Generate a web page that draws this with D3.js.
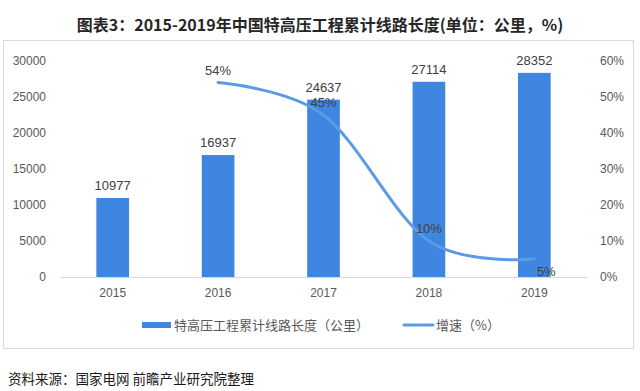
<!DOCTYPE html>
<html lang="zh">
<head>
  <meta charset="UTF-8" />
  <title>特高压工程累计线路长度</title>
  <script src="https://d3js.org/d3.v7.min.js"></script>
  <style>
    body {
      margin: 0;
      background: #fff;
      font-family: "Noto Sans CJK SC", "Noto Sans", sans-serif;
    }
    svg text {
      fill: #404040;
    }
    .num {
      font-family: "Liberation Sans", Arial, sans-serif;
    }
  </style>
</head>
<body>
  <svg width="640" height="391"></svg>

  <script>
    const years = ["2015", "2016", "2017", "2018", "2019"];
    const lengths = [10977, 16937, 24637, 27114, 28352];
    const growth = [null, 54, 45, 10, 5];
    const growthLabelPos = [null, "top", "top", "top", "below-right"];
    const leftTicks = [0, 5000, 10000, 15000, 20000, 25000, 30000];
    const rightTicks = [0, 10, 20, 30, 40, 50, 60];

    const barColor = "#3f86e0";
    const lineColor = "#5b9ae6";

    const svg = d3.select("svg");
    const margin = { top: 61, right: 53, bottom: 114, left: 60 },
          width = 640 - margin.left - margin.right,
          height = 391 - margin.top - margin.bottom;

    // title
    svg.append("text")
      .attr("x", 320)
      .attr("y", 31)
      .attr("text-anchor", "middle")
      .style("font-size", "16px")
      .style("font-weight", "bold")
      .style("fill", "#262626")
      .text("图表3：2015-2019年中国特高压工程累计线路长度(单位：公里，%)");

    // frame
    svg.append("rect")
      .attr("x", 3.5).attr("y", 40.5)
      .attr("width", 630).attr("height", 308)
      .attr("fill", "none")
      .attr("stroke", "#d9d9d9");

    const g = svg.append("g").attr("transform", `translate(${margin.left},${margin.top})`);

    const x = d3.scaleBand().domain(years).range([0, width]).paddingInner(0.69).paddingOuter(0.345);
    const y = d3.scaleLinear().domain([0, 30000]).range([height, 0]);
    const y2 = d3.scaleLinear().domain([0, 60]).range([height, 0]);

    // left axis
    const yAxis = g.append("g")
      .call(d3.axisLeft(y).tickValues(leftTicks).tickSize(0).tickPadding(14).tickFormat(d3.format("d")));
    yAxis.select(".domain").remove();
    yAxis.selectAll("text").attr("class", "num").style("font-size", "12px").style("fill", "#595959");

    // right axis
    const yAxis2 = g.append("g")
      .attr("transform", `translate(${width},0)`)
      .call(d3.axisRight(y2).tickValues(rightTicks).tickSize(0).tickPadding(13).tickFormat(d => d + "%"));
    yAxis2.select(".domain").remove();
    yAxis2.selectAll("text").attr("class", "num").style("font-size", "12px").style("fill", "#595959");

    // bars
    g.selectAll(".bar")
      .data(lengths)
      .join("rect")
      .attr("class", "bar")
      .attr("x", (d, i) => x(years[i]))
      .attr("y", d => y(d))
      .attr("width", x.bandwidth())
      .attr("height", d => height - y(d))
      .attr("fill", barColor);

    g.selectAll(".bar-label")
      .data(lengths)
      .join("text")
      .attr("class", "bar-label num")
      .attr("x", (d, i) => x(years[i]) + x.bandwidth() / 2)
      .attr("y", d => y(d) - 8)
      .attr("text-anchor", "middle")
      .style("font-size", "13px")
      .text(d => d);

    // bottom axis
    const xAxis = g.append("g")
      .attr("transform", `translate(0,${height})`)
      .call(d3.axisBottom(x).tickSize(0).tickPadding(11));
    xAxis.select(".domain").attr("stroke", "#d9d9d9");
    xAxis.selectAll("text").attr("class", "num").style("font-size", "12px").style("fill", "#595959");

    // growth line
    const pts = growth
      .map((v, i) => ({ v, year: years[i], pos: growthLabelPos[i] }))
      .filter(d => d.v !== null);

    const line = d3.line()
      .x(d => x(d.year) + x.bandwidth() / 2)
      .y(d => y2(d.v))
      .curve(d3.curveCardinal.tension(0));

    g.append("path")
      .datum(pts)
      .attr("d", line)
      .attr("fill", "none")
      .attr("stroke", lineColor)
      .attr("stroke-width", 3)
      .attr("stroke-linecap", "round");

    g.selectAll(".line-label")
      .data(pts)
      .join("text")
      .attr("class", "line-label num")
      .attr("x", d => x(d.year) + x.bandwidth() / 2 + (d.pos === "top" ? 0 : 12))
      .attr("y", d => y2(d.v) + (d.pos === "top" ? -8 : 17))
      .attr("text-anchor", "middle")
      .style("font-size", "13px")
      .text(d => d.v + "%");

    // legend
    const legend = svg.append("g").attr("transform", "translate(142,325)");
    legend.append("rect")
      .attr("x", 0).attr("y", -3)
      .attr("width", 29).attr("height", 6)
      .attr("fill", barColor);
    legend.append("text")
      .attr("x", 32).attr("y", 0)
      .attr("dy", "0.35em")
      .style("font-size", "13px")
      .style("fill", "#595959")
      .text("特高压工程累计线路长度（公里）");
    legend.append("line")
      .attr("x1", 262).attr("x2", 291)
      .attr("y1", 0).attr("y2", 0)
      .attr("stroke", lineColor)
      .attr("stroke-width", 3)
      .attr("stroke-linecap", "round");
    legend.append("text")
      .attr("x", 294).attr("y", 0)
      .attr("dy", "0.35em")
      .style("font-size", "13px")
      .style("fill", "#595959")
      .text("增速（%）");

    // source
    svg.append("text")
      .attr("x", 8)
      .attr("y", 384)
      .style("font-size", "13.5px")
      .style("fill", "#1a1a1a")
      .text("资料来源：国家电网 前瞻产业研究院整理");
  </script>
</body>
</html>
